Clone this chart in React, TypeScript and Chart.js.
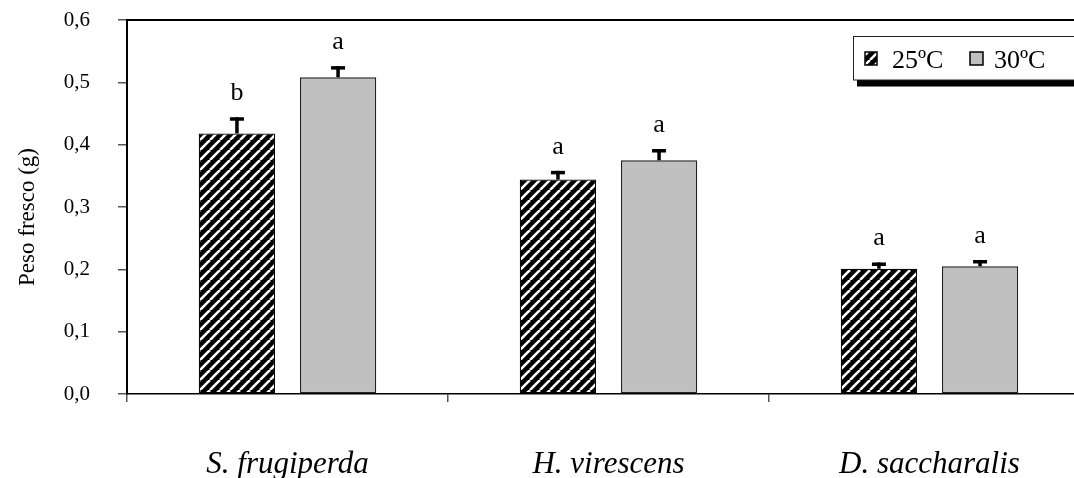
import React, { useEffect, useRef } from "react";
import { Chart, registerables } from "chart.js";

Chart.register(...registerables);

const categories = ["S. frugiperda", "H. virescens", "D. saccharalis"];
const seriesNames = ["25ºC", "30ºC"];
const values25 = [0.418, 0.344, 0.201];
const values30 = [0.508, 0.375, 0.205];
const errors25 = [0.026, 0.014, 0.01];
const errors30 = [0.018, 0.018, 0.01];
const letters25 = ["b", "a", "a"];
const letters30 = ["a", "a", "a"];
const yMin = 0;
const yMax = 0.6;
const yStep = 0.1;
const yTitle = "Peso fresco (g)";

const SERIF = "'Liberation Serif', 'Times New Roman', serif";

function makeHatch(ctx: CanvasRenderingContext2D) {
  const c = document.createElement("canvas");
  c.width = 10;
  c.height = 10;
  const g = c.getContext("2d")!;
  g.fillStyle = "#000";
  g.fillRect(0, 0, 10, 10);
  g.strokeStyle = "#fff";
  g.lineWidth = 2.6;
  for (const o of [-10, 0, 10]) {
    g.beginPath();
    g.moveTo(o, 10);
    g.lineTo(o + 10, 0);
    g.stroke();
  }
  return ctx.createPattern(c, "repeat")!;
}

export default function App() {
  const ref = useRef<HTMLCanvasElement>(null);
  useEffect(() => {
    const canvas = ref.current!;
    const ctx = canvas.getContext("2d")!;
    const hatch = makeHatch(ctx);
    const errs = [errors25, errors30];
    const lets = [letters25, letters30];

    const overlay = {
      id: "overlay",
      afterDatasetsDraw(chart: any) {
        const c = chart.ctx as CanvasRenderingContext2D;
        const y = chart.scales.y;
        const area = chart.chartArea;
        c.save();
        // top border
        c.strokeStyle = "#000";
        c.lineWidth = 2;
        c.beginPath();
        c.moveTo(area.left, area.top);
        c.lineTo(area.right, area.top);
        c.stroke();
        // error bars + letters
        [0, 1].forEach((di) => {
          const meta = chart.getDatasetMeta(di);
          const vals = chart.data.datasets[di].data as number[];
          meta.data.forEach((bar: any, j: number) => {
            const top = y.getPixelForValue(vals[j]);
            const et = y.getPixelForValue(vals[j] + errs[di][j]);
            c.fillStyle = "#000";
            c.fillRect(bar.x - 1.75, et, 3.5, top - et);
            c.fillRect(bar.x - 7, et, 14, 3.5);
            c.font = `26px ${SERIF}`;
            c.textAlign = "center";
            c.textBaseline = "alphabetic";
            c.fillText(lets[di][j], bar.x, et - 17);
          });
        });
        // y title
        c.save();
        c.translate(34, 217);
        c.rotate(-Math.PI / 2);
        c.font = `23px ${SERIF}`;
        c.textAlign = "center";
        c.textBaseline = "alphabetic";
        c.fillStyle = "#000";
        c.fillText(yTitle, 0, 0);
        c.restore();
        // legend
        c.fillStyle = "#000";
        c.fillRect(857, 80, 300, 6.5);
        c.fillStyle = "#fff";
        c.fillRect(853, 36, 300, 44);
        c.strokeStyle = "#222";
        c.lineWidth = 1;
        c.strokeRect(853.5, 36.5, 300, 43.5);
        c.fillStyle = hatch;
        c.fillRect(865, 52, 12, 13);
        c.strokeStyle = "#000";
        c.lineWidth = 1.5;
        c.strokeRect(865, 52, 12, 13);
        c.fillStyle = "#c0c0c0";
        c.fillRect(970, 52, 13, 13);
        c.strokeRect(970, 52, 13, 13);
        c.fillStyle = "#000";
        c.font = `26px ${SERIF}`;
        c.textAlign = "left";
        c.textBaseline = "alphabetic";
        c.fillText(seriesNames[0], 892, 68);
        c.fillText(seriesNames[1], 994, 68);
        c.restore();
      },
    };

    const chart = new Chart(canvas, {
      type: "bar",
      data: {
        labels: categories,
        datasets: [
          {
            label: seriesNames[0],
            data: values25,
            backgroundColor: hatch as any,
            borderColor: "#000",
            borderWidth: 1.2,
            borderSkipped: false,
            categoryPercentage: 0.63,
            barPercentage: 0.755,
          },
          {
            label: seriesNames[1],
            data: values30,
            backgroundColor: "#c0c0c0",
            borderColor: "#222",
            borderWidth: 1.5,
            borderSkipped: false,
            categoryPercentage: 0.63,
            barPercentage: 0.755,
          },
        ],
      },
      options: {
        animation: false,
        responsive: false,
        devicePixelRatio: 1,
        layout: { padding: { top: 20, right: 0, left: 0, bottom: 0 } },
        plugins: { legend: { display: false }, tooltip: { enabled: false } },
        scales: {
          x: {
            afterFit: (s: any) => {
              s.height = 84;
              s.paddingLeft = 0;
              s.paddingRight = 0;
            },
            grid: {
              offset: true,
              drawOnChartArea: false,
              tickLength: 8,
              color: "#555",
              lineWidth: 1.5,
            },
            border: { color: "#000", width: 1.5 },
            ticks: {
              color: "#000",
              padding: 44,
              font: { family: SERIF, size: 31, style: "italic" },
            },
          },
          y: {
            min: yMin,
            max: yMax,
            afterFit: (s: any) => {
              s.width = 127;
              s.paddingTop = 0;
              s.paddingBottom = 0;
            },
            grid: {
              drawOnChartArea: false,
              tickLength: 9,
              color: "#555",
              lineWidth: 1.5,
            },
            border: { color: "#000", width: 2 },
            ticks: {
              stepSize: yStep,
              color: "#000",
              padding: 28,
              font: { family: SERIF, size: 21 },
              callback: (v: any) => Number(v).toFixed(1).replace(".", ","),
            },
          },
        },
      },
      plugins: [overlay],
    });
    return () => chart.destroy();
  }, []);

  return (
    <div
      style={{
        position: "absolute",
        left: 0,
        top: 0,
        width: 1074,
        height: 478,
        overflow: "hidden",
        background: "#fff",
      }}
    >
      <canvas ref={ref} width={1090} height={478} style={{ display: "block" }} />
    </div>
  );
}
